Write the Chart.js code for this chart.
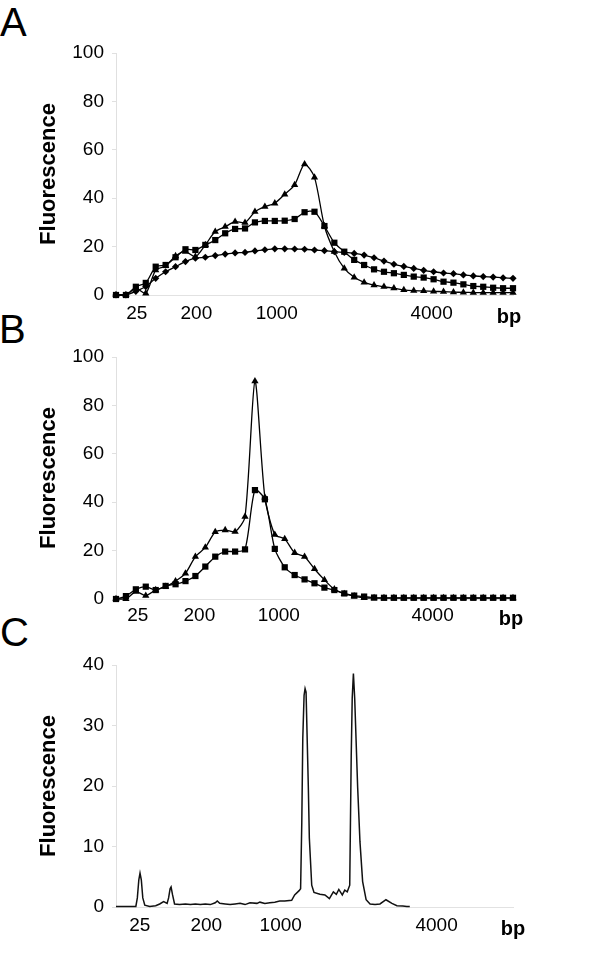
<!DOCTYPE html>
<html>
<head>
<meta charset="utf-8">
<script src="https://cdn.jsdelivr.net/npm/chart.js@4"></script>
<style>
  body { margin: 0; background: #fff; width: 600px; height: 972px; position: relative; overflow: hidden; font-family: Arial, "Liberation Sans", sans-serif; }
  canvas { position: absolute; left: 0; }
  .tag { position: absolute; font-size: 40px; line-height: 1; color: #000; }
</style>
</head>
<body>
<div class="tag" style="left:0;top:2px">A</div>
<div class="tag" style="left:-1px;top:309px">B</div>
<div class="tag" style="left:0;top:612px">C</div>
<canvas id="chartA" width="600" height="330" style="top:0"></canvas>
<canvas id="chartB" width="600" height="318" style="top:322px"></canvas>
<canvas id="chartC" width="600" height="340" style="top:632px"></canvas>
<script>
// x axis labels (fragment size) and where they sit on the bin axis
const xTickLabels = ['25', '200', '1000', '4000', 'bp'];
const xTickPosA = [2.1, 8.1, 16.2, 31.8, 39.6];
const xTickPosB = [2.2, 8.4, 16.4, 31.9, 39.8];
const xTickPosC = [2.4, 9.1, 16.6, 32.3, 40];

// panel A - 41 size bins
const aDiamond = [0, 0, 1.5, 3.5, 6.9, 9.6, 11.7, 13.8, 15.2, 15.6, 16.3, 16.9, 17.4, 17.6, 18.2, 18.7, 19.1, 19.1, 19.0, 18.9, 18.6, 18.3, 17.9, 17.6, 17.2, 16.5, 15.4, 14.0, 12.7, 11.8, 11.0, 10.2, 9.6, 9.1, 8.8, 8.3, 7.9, 7.6, 7.4, 7.1, 6.9];
const aSquare = [0, 0, 3.4, 5, 11.7, 12.4, 15.6, 18.9, 18.6, 20.7, 22.7, 25.5, 27.3, 27.5, 30, 30.6, 30.6, 30.7, 31.4, 34.2, 34.4, 28.5, 21.6, 17.9, 14.5, 12.4, 10.6, 9.6, 9.0, 8.3, 7.6, 7.2, 6.5, 5.5, 5.1, 4.4, 3.7, 3.4, 3.0, 2.8, 2.8];
const aTriangle = [0, 0, 2.8, 0.7, 10.3, 12, 16.1, 17.9, 15.8, 20.7, 26.2, 28.2, 30.3, 29.9, 34.4, 36.5, 37.9, 41.6, 45.5, 54.1, 48.6, 28.5, 17.9, 11, 7.3, 5.2, 4.1, 3.4, 2.8, 2.1, 1.8, 1.7, 1.5, 1.4, 1.2, 1.1, 1.0, 1.0, 1.0, 1.0, 1.0];

// panel B - 41 size bins
const bSquare = [0, 1.2, 4, 5.1, 3.7, 5.4, 6.1, 7.4, 9.5, 13.4, 17.5, 19.6, 19.6, 20.5, 45, 41.2, 20.7, 13.1, 9.9, 8.1, 6.5, 4.7, 3.7, 2.3, 1.4, 1.0, 0.6, 0.5, 0.5, 0.5, 0.5, 0.5, 0.5, 0.5, 0.5, 0.5, 0.5, 0.5, 0.5, 0.5, 0.5];
const bTriangle = [0, 0, 3, 1.4, 3.7, 5.1, 7.4, 10.6, 17.5, 21.3, 27.7, 28.5, 27.8, 34, 90, 42, 26.6, 24.8, 19.1, 17.5, 12.4, 7.9, 4.0, 2.1, 1.2, 0.5, 0.4, 0.4, 0.4, 0.4, 0.4, 0.4, 0.4, 0.4, 0.4, 0.4, 0.4, 0.4, 0.4, 0.4, 0.4];

// panel C - electropherogram trace
const cPos = [0, 1.0, 2.0, 2.15, 2.3, 2.42, 2.55, 2.7, 2.9, 3.4, 4.0, 4.4, 4.8, 5.15, 5.3, 5.45, 5.55, 5.7, 5.9, 6.4, 7.0, 7.5, 8.0, 8.5, 9.0, 9.5, 10.0, 10.2, 10.45, 11.0, 11.5, 12.0, 12.5, 13.0, 13.5, 14.2, 14.5, 15.0, 15.5, 16.0, 16.5, 17.0, 17.7, 18.0, 18.45, 18.6, 18.72, 18.82, 18.95, 19.05, 19.15, 19.38, 19.48, 19.72, 19.95, 20.55, 21.05, 21.5, 21.9, 22.2, 22.45, 22.8, 23.05, 23.3, 23.55, 23.7, 23.8, 23.92, 24.05, 24.35, 24.58, 24.85, 25.2, 25.6, 26.1, 26.6, 27.2, 27.8, 28.3, 28.9, 29.3, 29.6];
const cFluor = [0.1, 0.1, 0.1, 1.5, 4.5, 5.6, 4.5, 1.5, 0.3, 0.1, 0.2, 0.5, 0.9, 0.6, 1.5, 3.0, 3.3, 2.0, 0.5, 0.4, 0.5, 0.4, 0.5, 0.4, 0.5, 0.4, 0.7, 1.0, 0.6, 0.5, 0.4, 0.5, 0.6, 0.4, 0.7, 0.6, 0.8, 0.6, 0.7, 0.8, 1.0, 1.0, 1.1, 2.0, 2.7, 3.0, 14, 27.9, 35.0, 36.1, 35.5, 19.7, 11.4, 3.6, 2.4, 2.1, 2.0, 1.4, 2.5, 2.1, 2.9, 2.0, 2.8, 2.5, 3.6, 25, 34.5, 38.6, 34.5, 19.7, 10.8, 4.2, 1.2, 0.5, 0.4, 0.5, 1.2, 0.6, 0.2, 0.15, 0.1, 0.1];

const font = "Arial, 'Liberation Sans', sans-serif";
const bins = aSquare.map((v, i) => i);

const pts = (xs, ys) => xs.map((x, i) => ({ x: x, y: ys[i] }));

const marked = (ys, style, r) => ({
    data: pts(bins, ys),
    borderColor: '#000',
    backgroundColor: '#000',
    borderWidth: 1.3,
    pointStyle: style,
    pointRadius: r,
    pointBorderWidth: 0,
    tension: 0.25,
    clip: false
});

const drawPanel = (id, datasets, geo, yMax, yStep, tickPos) => {
    new Chart(document.getElementById(id), {
        type: 'line',
        data: { datasets: datasets },
        options: {
            responsive: false,
            animation: false,
            events: [],
            layout: { padding: { top: geo.plotTop - geo.top, right: 87, bottom: 0, left: 0 } },
            plugins: { legend: { display: false }, tooltip: { enabled: false } },
            scales: {
                x: {
                    type: 'linear',
                    min: 0,
                    max: 40,
                    grid: { display: false, drawTicks: false },
                    border: { display: true, color: '#e2e2e2', width: 1 },
                    afterBuildTicks: s => { s.ticks = tickPos.map(v => ({ value: v })); },
                    afterFit: s => { s.height = geo.top + geo.h - geo.plotBottom; },
                    ticks: {
                        autoSkip: false,
                        maxRotation: 0,
                        padding: geo.labelPad,
                        color: '#000',
                        callback: (v, i) => xTickLabels[i],
                        font: ctx => ctx.index === 4
                            ? { family: font, size: 20, weight: 'bold', lineHeight: 1.55 }
                            : { family: font, size: 19 }
                    }
                },
                y: {
                    min: 0,
                    max: yMax,
                    ticks: { stepSize: yStep, padding: 8, color: '#000', font: { family: font, size: 19 } },
                    grid: { drawOnChartArea: false, drawTicks: true, tickLength: 4, color: '#e0e0e0' },
                    border: { color: '#e0e0e0' },
                    title: {
                        display: true,
                        text: 'Fluorescence',
                        color: '#000',
                        font: { family: font, size: 22, weight: 'bold' },
                        padding: { top: 36, bottom: 0 }
                    },
                    afterFit: s => { s.width = 116; }
                }
            }
        }
    });
};

drawPanel('chartA', [
    marked(aDiamond, 'rectRot', 3.6),
    marked(aSquare, 'rect', 4.4),
    marked(aTriangle, 'triangle', 4.2)
], { top: 0, h: 330, plotTop: 53, plotBottom: 295, labelPad: 7 }, 100, 20, xTickPosA);

drawPanel('chartB', [
    marked(bSquare, 'rect', 4.4),
    marked(bTriangle, 'triangle', 4.2)
], { top: 322, h: 318, plotTop: 357, plotBottom: 599, labelPad: 5 }, 100, 20, xTickPosB);

drawPanel('chartC', [{
    data: pts(cPos, cFluor),
    borderColor: '#111',
    borderWidth: 1.5,
    pointRadius: 0,
    tension: 0,
    clip: false
}], { top: 632, h: 340, plotTop: 665, plotBottom: 907, labelPad: 7 }, 40, 10, xTickPosC);
</script>
</body>
</html>
